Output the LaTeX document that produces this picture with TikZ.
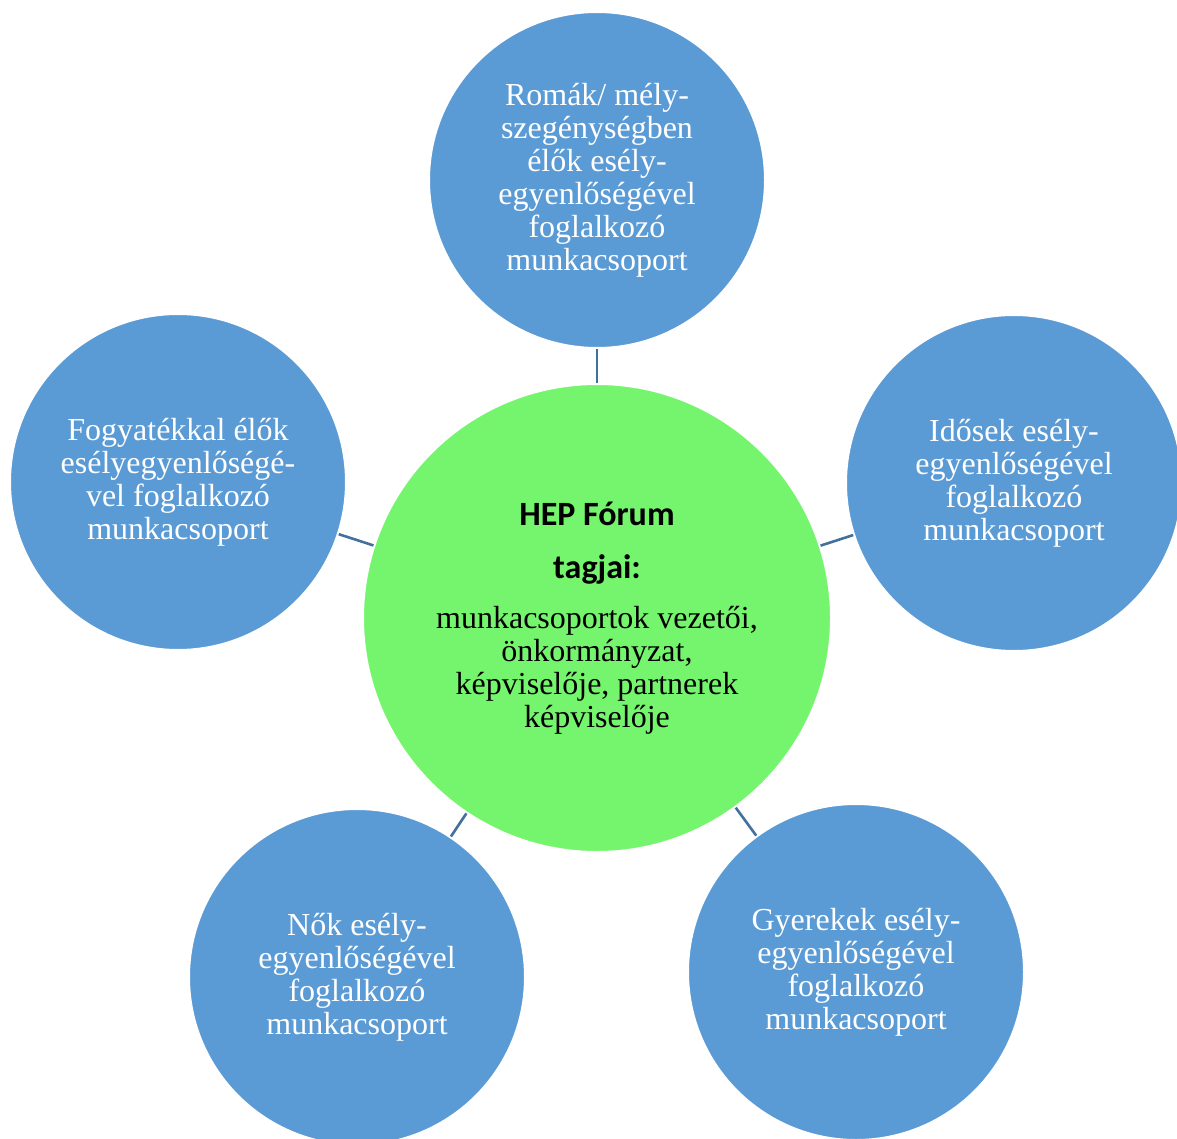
\documentclass[tikz,border=0pt]{standalone}
\usepackage{fontspec}
\setmainfont{Liberation Serif}
\newfontfamily\cimfont{Carlito}
\definecolor{korkek}{HTML}{5B9BD5}
\definecolor{korzold}{HTML}{75F56E}
\definecolor{vonal}{HTML}{41719C}

\begin{document}
\begin{tikzpicture}[x=0.5pt,y=-0.5pt,
  munka/.style={circle,draw=white,line width=1pt,fill=korkek,text=white,minimum size=168pt,inner sep=0pt,align=center,font=\fontsize{16}{16.5}\selectfont},
  forum/.style={circle,draw=white,line width=1pt,fill=korzold,minimum size=234pt,inner sep=0pt,align=center,font=\fontsize{16}{16.5}\selectfont},
  kapcs/.style={draw=vonal,line width=1.3pt}]
\useasboundingbox (0,0) rectangle (1177,1139);
\node[forum] (hep) at (597,618) {{\cimfont\bfseries\fontsize{17}{16.5}\selectfont HEP Fórum}\\[10pt]{\cimfont\bfseries\fontsize{17}{16.5}\selectfont tagjai:}\\[8.5pt]munkacsoportok vezetői,\\önkormányzat,\\képviselője, partnerek\\képviselője};
\node[munka] (roma) at (597,180) {Romák/ mély-\\szegénységben\\élők esély-\\egyenlőségével\\foglalkozó\\munkacsoport};
\node[munka] (fogy) at (178,482) {Fogyatékkal élők\\esélyegyenlőségé-\\vel foglalkozó\\munkacsoport};
\node[munka] (idos) at (1014,483) {Idősek esély-\\egyenlőségével\\foglalkozó\\munkacsoport};
\node[munka] (nok) at (357,977) {Nők esély-\\egyenlőségével\\foglalkozó\\munkacsoport};
\node[munka] (gyer) at (856,972) {Gyerekek esély-\\egyenlőségével\\foglalkozó\\munkacsoport};
\draw[kapcs] (hep)--(roma);\draw[kapcs] (hep)--(fogy);\draw[kapcs] (hep)--(idos);
\draw[kapcs] (hep)--(nok);\draw[kapcs] (hep)--(gyer);
\end{tikzpicture}
\end{document}
